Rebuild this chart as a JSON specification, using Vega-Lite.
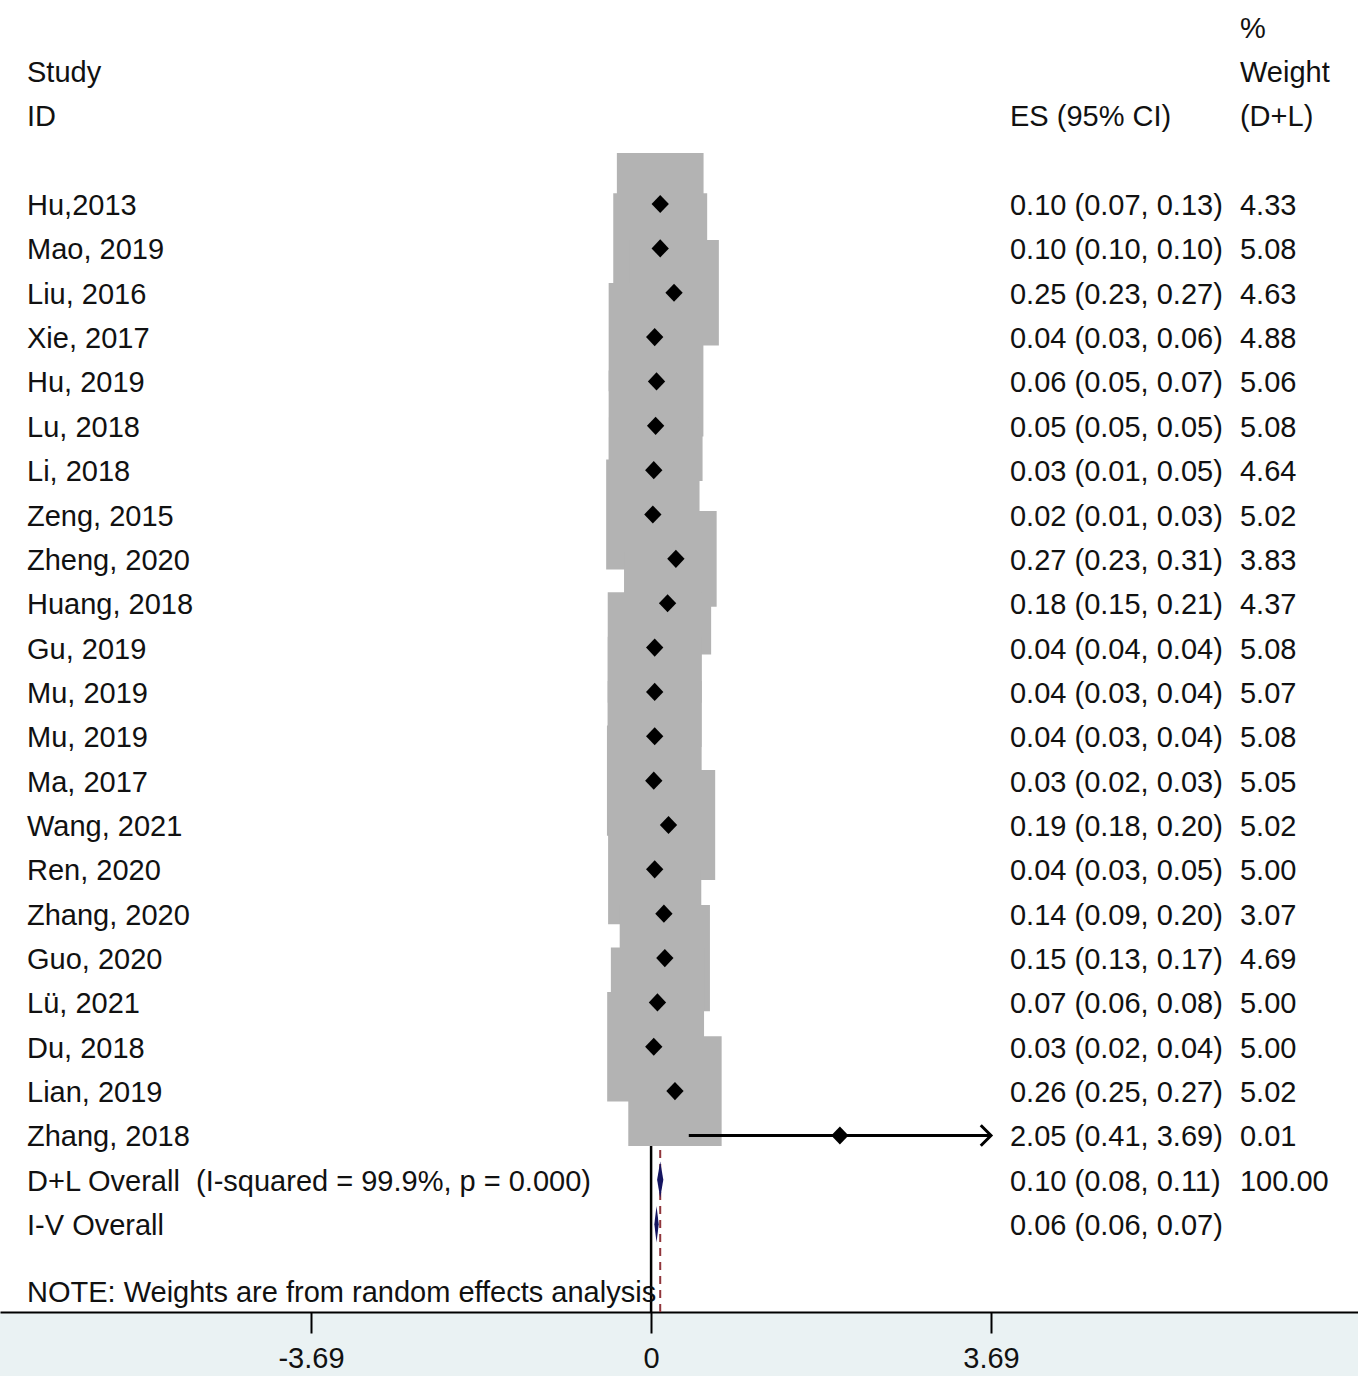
{
  "$schema": "https://vega.github.io/schema/vega-lite/v6.json",
  "width": 1358,
  "height": 1312,
  "autosize": {"type": "none"},
  "padding": {"left": 0, "top": 0, "right": 0, "bottom": 64},
  "background": "#eaf2f3",
  "config": {
    "view": {"stroke": null, "fill": "white"},
    "font": "Liberation Sans",
    "text": {"font": "Liberation Sans", "fontSize": 29, "color": "#111111"}
  },
  "data": {
    "values": [
      {"r": -3, "wt": "%"},
      {"r": -2, "study": "Study", "wt": "Weight"},
      {"r": -1, "study": "ID", "ci": "ES (95% CI)", "wt": "(D+L)"},
      {"r": 1, "type": "study", "study": "Hu,2013", "es": 0.10, "lo": 0.07, "hi": 0.13, "w": 4.33, "ci": "0.10 (0.07, 0.13)", "wt": "4.33"},
      {"r": 2, "type": "study", "study": "Mao, 2019", "es": 0.10, "lo": 0.10, "hi": 0.10, "w": 5.08, "ci": "0.10 (0.10, 0.10)", "wt": "5.08"},
      {"r": 3, "type": "study", "study": "Liu, 2016", "es": 0.25, "lo": 0.23, "hi": 0.27, "w": 4.63, "ci": "0.25 (0.23, 0.27)", "wt": "4.63"},
      {"r": 4, "type": "study", "study": "Xie, 2017", "es": 0.04, "lo": 0.03, "hi": 0.06, "w": 4.88, "ci": "0.04 (0.03, 0.06)", "wt": "4.88"},
      {"r": 5, "type": "study", "study": "Hu, 2019", "es": 0.06, "lo": 0.05, "hi": 0.07, "w": 5.06, "ci": "0.06 (0.05, 0.07)", "wt": "5.06"},
      {"r": 6, "type": "study", "study": "Lu, 2018", "es": 0.05, "lo": 0.05, "hi": 0.05, "w": 5.08, "ci": "0.05 (0.05, 0.05)", "wt": "5.08"},
      {"r": 7, "type": "study", "study": "Li, 2018", "es": 0.03, "lo": 0.01, "hi": 0.05, "w": 4.64, "ci": "0.03 (0.01, 0.05)", "wt": "4.64"},
      {"r": 8, "type": "study", "study": "Zeng, 2015", "es": 0.02, "lo": 0.01, "hi": 0.03, "w": 5.02, "ci": "0.02 (0.01, 0.03)", "wt": "5.02"},
      {"r": 9, "type": "study", "study": "Zheng, 2020", "es": 0.27, "lo": 0.23, "hi": 0.31, "w": 3.83, "ci": "0.27 (0.23, 0.31)", "wt": "3.83"},
      {"r": 10, "type": "study", "study": "Huang, 2018", "es": 0.18, "lo": 0.15, "hi": 0.21, "w": 4.37, "ci": "0.18 (0.15, 0.21)", "wt": "4.37"},
      {"r": 11, "type": "study", "study": "Gu, 2019", "es": 0.04, "lo": 0.04, "hi": 0.04, "w": 5.08, "ci": "0.04 (0.04, 0.04)", "wt": "5.08"},
      {"r": 12, "type": "study", "study": "Mu, 2019", "es": 0.04, "lo": 0.03, "hi": 0.04, "w": 5.07, "ci": "0.04 (0.03, 0.04)", "wt": "5.07"},
      {"r": 13, "type": "study", "study": "Mu, 2019", "es": 0.04, "lo": 0.03, "hi": 0.04, "w": 5.08, "ci": "0.04 (0.03, 0.04)", "wt": "5.08"},
      {"r": 14, "type": "study", "study": "Ma, 2017", "es": 0.03, "lo": 0.02, "hi": 0.03, "w": 5.05, "ci": "0.03 (0.02, 0.03)", "wt": "5.05"},
      {"r": 15, "type": "study", "study": "Wang, 2021", "es": 0.19, "lo": 0.18, "hi": 0.20, "w": 5.02, "ci": "0.19 (0.18, 0.20)", "wt": "5.02"},
      {"r": 16, "type": "study", "study": "Ren, 2020", "es": 0.04, "lo": 0.03, "hi": 0.05, "w": 5.00, "ci": "0.04 (0.03, 0.05)", "wt": "5.00"},
      {"r": 17, "type": "study", "study": "Zhang, 2020", "es": 0.14, "lo": 0.09, "hi": 0.20, "w": 3.07, "ci": "0.14 (0.09, 0.20)", "wt": "3.07"},
      {"r": 18, "type": "study", "study": "Guo, 2020", "es": 0.15, "lo": 0.13, "hi": 0.17, "w": 4.69, "ci": "0.15 (0.13, 0.17)", "wt": "4.69"},
      {"r": 19, "type": "study", "study": "Lü, 2021", "es": 0.07, "lo": 0.06, "hi": 0.08, "w": 5.00, "ci": "0.07 (0.06, 0.08)", "wt": "5.00"},
      {"r": 20, "type": "study", "study": "Du, 2018", "es": 0.03, "lo": 0.02, "hi": 0.04, "w": 5.00, "ci": "0.03 (0.02, 0.04)", "wt": "5.00"},
      {"r": 21, "type": "study", "study": "Lian, 2019", "es": 0.26, "lo": 0.25, "hi": 0.27, "w": 5.02, "ci": "0.26 (0.25, 0.27)", "wt": "5.02"},
      {"r": 22, "type": "study", "study": "Zhang, 2018", "es": 2.05, "lo": 0.41, "hi": 3.69, "w": 0.01, "ci": "2.05 (0.41, 3.69)", "wt": "0.01"},
      {"r": 23, "type": "DL", "study": "D+L Overall\u00a0\u00a0(I-squared = 99.9%, p = 0.000)", "es": 0.10, "lo": 0.08, "hi": 0.11, "ci": "0.10 (0.08, 0.11)", "wt": "100.00"},
      {"r": 24, "type": "IV", "study": "I-V Overall", "es": 0.06, "lo": 0.06, "hi": 0.07, "ci": "0.06 (0.06, 0.07)"},
      {"r": 25.5, "type": "note", "study": "NOTE: Weights are from random effects analysis"}
    ]
  },
  "encoding": {
    "y": {"field": "r", "type": "quantitative", "scale": {"domain": [-3.6, 25.98], "reverse": true, "nice": false, "zero": false}, "axis": null}
  },
  "layer": [
    {
      "data": {"values": [{}]},
      "mark": {"type": "rule", "color": "#c4c4c4", "strokeWidth": 3},
      "encoding": {
        "x": {"datum": -6.935, "type": "quantitative", "scale": {"domain": [-7.0653, 7.673], "nice": false, "zero": false},
          "axis": {"values": [-3.69, 0, 3.69], "labelExpr": "'' + datum.value", "title": null, "grid": false,
            "domainColor": "#000000", "domainWidth": 2, "tickColor": "#000000", "tickWidth": 2, "tickSize": 21,
            "labelFontSize": 29, "labelFont": "Liberation Sans", "labelColor": "#111111", "labelPadding": 11, "labelFlush": false}},
        "x2": {"datum": 7.64},
        "y": {"datum": 0.233, "type": "quantitative"}
      }
    },
    {
      "transform": [{"filter": "datum.type == 'note'"}],
      "mark": {"type": "rule", "color": "#000000", "strokeWidth": 2.5},
      "encoding": {
        "x": {"datum": 0.001, "type": "quantitative"},
        "y": {"datum": 0.233, "type": "quantitative"},
        "y2": {"datum": 25.98}
      }
    },
    {
      "transform": [{"filter": "datum.type == 'DL'"}],
      "mark": {"type": "rule", "color": "#90353b", "strokeWidth": 2, "strokeDash": [8, 6]},
      "encoding": {
        "x": {"field": "es", "type": "quantitative"},
        "y": {"datum": 0.233, "type": "quantitative"},
        "y2": {"datum": 25.98}
      }
    },
    {
      "transform": [{"filter": "datum.type == 'study'"}],
      "mark": {"type": "point", "shape": "M -0.85 -1 L 0.85 -1 L 0.85 1 L -0.85 1 Z", "filled": true, "color": "#b3b3b3", "opacity": 1},
      "encoding": {
        "x": {"field": "es", "type": "quantitative"},
        "size": {"field": "w", "type": "quantitative", "scale": {"type": "linear", "domain": [0, 5.08], "range": [0, 12207]}, "legend": null}
      }
    },
    {
      "transform": [{"filter": "datum.type == 'study'"}],
      "mark": {"type": "rule", "color": "#000000", "strokeWidth": 3},
      "encoding": {
        "x": {"field": "lo", "type": "quantitative"},
        "x2": {"field": "hi"}
      }
    },
    {
      "transform": [{"filter": "datum.type == 'study' && datum.hi >= 3.69"}],
      "mark": {"type": "point", "shape": "M -1 -1 L 0 0 L -1 1", "filled": false, "color": "#000000", "strokeWidth": 3, "size": 420, "opacity": 1},
      "encoding": {
        "x": {"field": "hi", "type": "quantitative"}
      }
    },
    {
      "transform": [{"filter": "datum.type == 'study'"}],
      "mark": {"type": "point", "shape": "M -1 0 L 0 -1.05 L 1 0 L 0 1.05 Z", "filled": true, "color": "#000000", "size": 300, "opacity": 1},
      "encoding": {
        "x": {"field": "es", "type": "quantitative"}
      }
    },
    {
      "transform": [{"filter": "datum.type == 'DL'"}],
      "mark": {"type": "point", "shape": "M -0.17 0 L 0 -1 L 0.17 0 L 0 1 Z", "filled": true, "color": "#141460", "size": 1330, "opacity": 1},
      "encoding": {
        "x": {"field": "es", "type": "quantitative"}
      }
    },
    {
      "transform": [{"filter": "datum.type == 'IV'"}],
      "mark": {"type": "point", "shape": "M -0.12 0 L 0 -1 L 0.12 0 L 0 1 Z", "filled": true, "color": "#141460", "size": 1330, "opacity": 1},
      "encoding": {
        "x": {"field": "es", "type": "quantitative"}
      }
    },
    {
      "transform": [{"filter": "isValid(datum.study)"}],
      "mark": {"type": "text", "align": "left", "baseline": "middle", "dy": 2},
      "encoding": {
        "x": {"datum": -6.772, "type": "quantitative"},
        "text": {"field": "study", "type": "nominal"}
      }
    },
    {
      "transform": [{"filter": "isValid(datum.ci)"}],
      "mark": {"type": "text", "align": "left", "baseline": "middle", "dy": 2},
      "encoding": {
        "x": {"datum": 3.896, "type": "quantitative"},
        "text": {"field": "ci", "type": "nominal"}
      }
    },
    {
      "transform": [{"filter": "isValid(datum.wt)"}],
      "mark": {"type": "text", "align": "left", "baseline": "middle", "dy": 2},
      "encoding": {
        "x": {"datum": 6.392, "type": "quantitative"},
        "text": {"field": "wt", "type": "nominal"}
      }
    }
  ]
}
